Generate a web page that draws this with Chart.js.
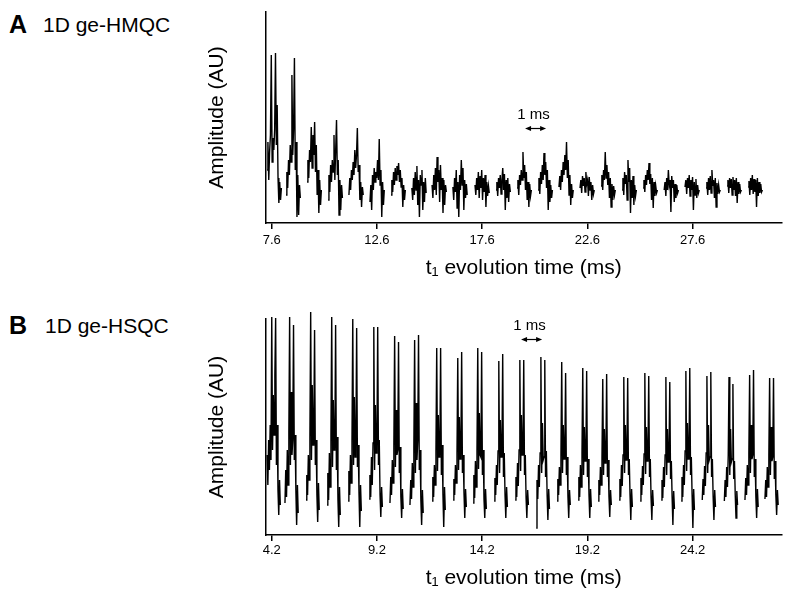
<!DOCTYPE html>
<html>
<head>
<meta charset="utf-8">
<script src="https://cdn.jsdelivr.net/npm/chart.js@4.4.1/dist/chart.umd.min.js"></script>
<style>
  body { margin: 0; background: #fff; }
  #page { position: relative; width: 786px; height: 592px; font-family: "Liberation Sans", Arial, sans-serif; color: #000; }
  .panel { position: absolute; left: 0; width: 786px; height: 296px; }
  .tag { position: absolute; font-weight: bold; font-size: 25px; line-height: 24px; }
  .name { position: absolute; font-size: 21px; line-height: 21px; }
</style>
</head>
<body>
<div id="page">
  <div class="tag" style="left:9px; top:12px;">A</div>
  <div class="name" style="left:43px; top:14px;">1D ge-HMQC</div>
  <div class="tag" style="left:9px; top:313px;">B</div>
  <div class="name" style="left:45px; top:315px;">1D ge-HSQC</div>
  <div class="panel" style="top:0;"><canvas id="chartA"></canvas></div>
  <div class="panel" style="top:296px;"><canvas id="chartB"></canvas></div>
</div>
<script>
// ---- panel A : 1D ge-HMQC ----
const ticksA = [7.6, 12.6, 17.6, 22.6, 27.6];
const stepA = 0.04; // ms between samples inside an echo
const startsA = [7.38, 8.28, 9.28, 10.28, 11.27, 12.27, 13.27, 14.26, 15.22, 16.21, 17.26, 18.26,
  19.26, 20.26, 21.25, 22.25, 23.25, 24.25, 25.25, 26.25, 27.24, 28.24, 29.24, 30.24];
const echoesA = [
  [20, 48, 10, 38, 55, 135, 28, 52, 40, 60, 137, 45, 85, 12, -13, 8, -10, 2],
  [-5, 18, 2, 30, 15, 45, 28, 115, 35, 62, 132, 20, 48, -27, 15, -25, 5, -8],
  [8, 30, 12, 40, 28, 63, 22, 55, 35, 68, 18, 45, -5, 20, -23, 10, -15, 0],
  [-10, 15, -2, 25, 8, 30, 18, 55, 10, 40, 70, 15, 30, -25, 10, -20, 5, -8],
  [-5, 12, 0, 20, 10, 28, 15, 40, 22, 35, 62, 18, 25, -10, 8, -17, 3, -5],
  [-12, 5, -20, 15, 0, 22, 8, 18, 12, 30, 10, 51, 5, 20, -27, 8, -15, 0],
  [-5, 10, -2, 18, 5, 22, 10, 24, 15, 27, 8, 20, 3, 12, -17, 5, -10, 0],
  [2, -10, 12, -5, 18, 0, 24, -15, 10, -27, 15, 5, 20, -20, 8, -12, 12, -3],
  [5, -8, 15, 0, 22, -5, 33, 8, 20, -12, 25, 0, 12, -23, 10, -15, 5, -2],
  [3, -10, 12, -2, 20, -18, 8, -27, 15, 0, 30, 5, 22, -20, 10, -8, 6, -5],
  [5, -5, 12, 0, 18, -8, 14, 2, 20, -10, 12, -2, 15, -17, 8, -6, 4, -3],
  [0, 8, -6, 12, 2, 15, -4, 10, 22, 0, 16, -20, 10, -8, 12, -12, 6, -2],
  [2, 10, -5, 15, 5, 20, 10, 38, 12, 25, 0, 18, -10, 8, -17, 6, -6, 0],
  [0, 12, -4, 18, 6, 25, 10, 37, 15, 28, 2, 20, -20, 10, -12, 5, -8, 0],
  [3, 14, 0, 20, 8, 28, 15, 35, 20, 48, 12, 30, -5, 15, -15, 6, -8, 0],
  [2, 10, -3, 14, 4, 12, -2, 18, 6, 10, -6, 13, 0, 8, -10, 5, -4, 0],
  [4, 15, 0, 20, 10, 38, 12, 25, 5, 18, -8, 12, -17, 6, -10, 4, -5, 0],
  [0, 12, -5, 18, 6, 15, -10, 30, 8, 22, -23, 10, -8, 14, -15, 5, -6, 0],
  [2, 10, -2, 15, 5, 20, 10, 27, 6, 16, -10, 12, -18, 8, -6, 4, -3, 0],
  [0, 8, -6, 12, 0, 20, 5, 10, -22, 14, 2, 10, -12, 6, -8, 5, -3, 0],
  [3, 10, -4, 12, 2, 15, -6, 10, 0, 13, -20, 8, -5, 11, -8, 5, -3, 0],
  [2, 8, -5, 12, 0, 14, -3, 20, 4, 10, -8, 12, -17, 7, -4, 5, -2, 0],
  [4, 10, -3, 12, 2, 11, -5, 13, 0, 10, -6, 12, -13, 8, -4, 6, -2, 0],
  [3, 9, -5, 12, 0, 15, -4, 11, -2, 10, -17, 12, -6, 8, -3, 6, -2, 0]
];

// ---- panel B : 1D ge-HSQC ----
const ticksB = [4.2, 9.2, 14.2, 19.2, 24.2];
const stepB = 0.037;
const startsB = [3.98, 4.83, 5.83, 6.83, 7.83, 8.83, 9.82, 10.77, 11.82, 12.82, 13.77, 14.77, 15.77,
  16.77, 17.76, 18.76, 19.71, 20.71, 21.71, 22.71, 23.66, 24.66, 25.71, 26.69, 27.64];
const echoesB = [
  [40, 10, 55, 25, 70, 35, 178, 45, 100, 60, 120, 177, 30, 70, 5, -20, 15, -10],
  [-8, 25, -2, 45, 10, 63, 178, 30, 103, 40, 55, 170, 35, 60, 5, -30, 10, -18],
  [-5, 20, 0, 40, 15, 58, 183, 35, 110, 50, 65, 165, 30, 55, 0, -27, 12, -15],
  [-10, 22, -5, 42, 8, 60, 178, 28, 95, 45, 50, 170, 25, 58, -5, -32, 8, -20],
  [-6, 24, 0, 40, 12, 55, 176, 30, 98, 38, 52, 167, 28, 50, 2, -32, 10, -16],
  [-4, 20, -2, 38, 10, 52, 168, 25, 90, 42, 48, 168, 30, 55, 0, -22, 8, -12],
  [-8, 18, 0, 35, 12, 50, 159, 28, 85, 40, 45, 153, 22, 48, -2, -23, 6, -14],
  [-10, 15, -4, 32, 8, 48, 155, 22, 92, 35, 55, 160, 25, 45, -5, -30, 5, -18],
  [-6, 18, -2, 30, 10, 45, 147, 24, 80, 38, 42, 147, 20, 50, 0, -32, 8, -15],
  [-5, 16, 0, 30, 12, 42, 137, 25, 78, 36, 48, 143, 22, 40, 2, -23, 6, -12],
  [-8, 20, -3, 34, 8, 46, 147, 26, 82, 40, 38, 143, 20, 45, -4, -23, 6, -14],
  [-6, 17, 0, 30, 10, 44, 134, 22, 75, 38, 40, 141, 18, 42, 0, -23, 8, -12],
  [-5, 18, -2, 32, 9, 45, 135, 24, 80, 40, 42, 135, 20, 40, -3, -23, 5, -10],
  [-33, 15, -4, 30, 8, 42, 138, 22, 72, 35, 38, 135, 18, 44, 0, -25, 6, -14],
  [-6, 16, 0, 28, 10, 40, 133, 22, 70, 36, 45, 122, 20, 38, -2, -23, 5, -10],
  [-5, 18, -2, 30, 8, 42, 127, 20, 68, 34, 40, 124, 18, 36, 0, -23, 6, -12],
  [-6, 15, 0, 28, 10, 38, 116, 20, 66, 32, 38, 121, 18, 35, -2, -22, 5, -10],
  [-5, 16, -2, 30, 9, 40, 118, 22, 70, 35, 40, 117, 20, 36, 0, -25, 6, -12],
  [-6, 17, 0, 29, 10, 41, 122, 21, 68, 34, 38, 119, 18, 36, -3, -25, 5, -11],
  [-5, 15, -3, 28, 8, 40, 118, 20, 66, 33, 36, 113, 16, 34, -2, -30, 4, -14],
  [-6, 18, -2, 30, 10, 44, 124, 24, 72, 36, 40, 127, 20, 38, 0, -33, 6, -15],
  [-5, 16, 0, 29, 9, 42, 119, 22, 70, 35, 38, 123, 18, 36, -2, -25, 5, -12],
  [-6, 15, -2, 28, 8, 40, 118, 20, 66, 33, 36, 111, 16, 34, 0, -23, 4, -10],
  [-5, 17, 0, 30, 10, 42, 120, 22, 70, 36, 40, 125, 18, 36, -2, -23, 6, -12],
  [-4, 15, -2, 28, 8, 40, 117, 20, 68, 34, 38, 117, 16, 34, 0, -20, 5, -10]
];

const FONT = '"Liberation Sans", Arial, sans-serif';

// echoes become one line, broken (null) between echoes
function toPoints(starts, echoes, step) {
  let pts = [];
  echoes.forEach((vals, i) => {
    vals.forEach((v, j) => pts.push({ x: starts[i] + j * step, y: v }));
    pts.push({ x: starts[i] + vals.length * step, y: null });
  });
  return pts;
}

// "1 ms" scale bar with double arrow
const scaleBar = {
  id: 'scaleBar',
  afterDatasetsDraw(chart, args, opts) {
    const { ctx, scales: { x, y } } = chart;
    const x0 = x.getPixelForValue(opts.t);
    const x1 = x.getPixelForValue(opts.t + 1);
    const py = Math.round(y.getPixelForValue(opts.y)) + 0.5;
    ctx.save();
    ctx.strokeStyle = '#000';
    ctx.fillStyle = '#000';
    ctx.lineWidth = 1.2;
    ctx.beginPath();
    ctx.moveTo(x0 + 3, py);
    ctx.lineTo(x1 - 3, py);
    ctx.stroke();
    ctx.beginPath();
    ctx.moveTo(x0, py); ctx.lineTo(x0 + 6, py - 2.5); ctx.lineTo(x0 + 6, py + 2.5);
    ctx.closePath(); ctx.fill();
    ctx.beginPath();
    ctx.moveTo(x1, py); ctx.lineTo(x1 - 6, py - 2.5); ctx.lineTo(x1 - 6, py + 2.5);
    ctx.closePath(); ctx.fill();
    ctx.font = '15px ' + FONT;
    ctx.textAlign = 'center';
    ctx.textBaseline = 'middle';
    ctx.fillText('1 ms', (x0 + x1) / 2 - 2, py - 14);
    ctx.restore();
  }
};

function makePanel(id, cfg) {
  return new Chart(id, {
    type: 'scatter',
    data: {
      datasets: [{
        data: toPoints(cfg.starts, cfg.echoes, cfg.step),
        showLine: true,
        spanGaps: false,
        pointRadius: 0,
        borderColor: '#000',
        borderWidth: 1.4,
        clip: false
      }]
    },
    options: {
      responsive: true,
      maintainAspectRatio: false,
      animation: false,
      layout: { padding: { left: 190, right: 4, top: cfg.top, bottom: 0 } },
      plugins: {
        legend: { display: false },
        tooltip: { enabled: false },
        scaleBar: cfg.bar
      },
      scales: {
        x: {
          type: 'linear',
          min: cfg.xmin,
          max: cfg.xmax,
          afterBuildTicks: s => { s.ticks = cfg.ticks.map(v => ({ value: v })); },
          afterFit: s => { s.height = cfg.xh; },
          ticks: {
            autoSkip: false,
            maxRotation: 0,
            color: '#000',
            padding: cfg.tickPad,
            font: { family: FONT, size: 13 },
            callback: v => v.toFixed(1)
          },
          grid: { display: true, drawOnChartArea: false, drawTicks: true, tickLength: 6, color: '#000', lineWidth: 1.5 },
          border: { display: true, color: '#000', width: 1.5 },
          title: {
            display: true,
            text: 't\u2081 evolution time (ms)',
            color: '#000',
            font: { family: FONT, size: 21 },
            padding: { top: 0, bottom: cfg.titlePad }
          }
        },
        y: {
          min: cfg.ymin,
          max: cfg.ymax,
          afterFit: s => { s.width = 75.5; },
          ticks: { display: false },
          grid: { display: false },
          border: { display: true, color: '#000', width: 1.5 },
          title: {
            display: true,
            text: 'Amplitude (AU)',
            color: '#000',
            font: { family: FONT, size: 21 },
            padding: { top: 15, bottom: 0 }
          }
        }
      }
    },
    plugins: [scaleBar]
  });
}

makePanel('chartA', {
  starts: startsA, echoes: echoesA, step: stepA, ticks: ticksA,
  xmin: 7.305, xmax: 31.85, ymin: -33, ymax: 178,
  top: 12, xh: 73, tickPad: 4, titlePad: 15,
  bar: { t: 19.64, y: 62 }
});

makePanel('chartB', {
  starts: startsB, echoes: echoesB, step: stepB, ticks: ticksB,
  xmin: 3.905, xmax: 28.45, ymin: -40, ymax: 176,
  top: 23, xh: 57, tickPad: 2, titlePad: 1,
  bar: { t: 16.05, y: 156 }
});
</script>
</body>
</html>
